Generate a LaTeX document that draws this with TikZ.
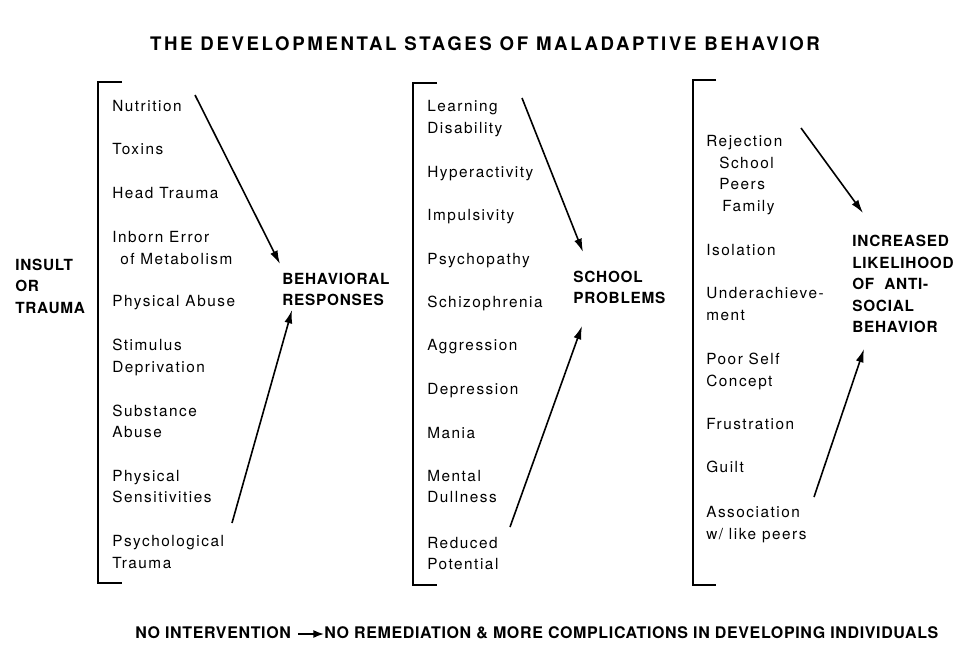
\documentclass[tikz,border=0pt]{standalone}
\usepackage{fontspec}
\setmainfont{TeX Gyre Heros}
\newfontfamily\itemfont[LetterSpace=10]{TeX Gyre Heros}
\newfontfamily\headfont[LetterSpace=5]{TeX Gyre Heros}
\newfontfamily\titlefont[LetterSpace=14]{TeX Gyre Heros}
\newfontfamily\footfont[LetterSpace=4]{TeX Gyre Heros}
\usetikzlibrary{arrows.meta}

\begin{document}
\begin{tikzpicture}[x=0.75pt,y=-0.75pt,
    item/.style={anchor=base west,inner sep=0pt,font=\fontsize{11.5}{13}\itemfont},
    head/.style={anchor=base west,inner sep=0pt,font=\fontsize{11.5}{13}\headfont\bfseries},
    foot/.style={anchor=base west,inner sep=0pt,font=\fontsize{12}{14}\footfont\bfseries},
    bracket/.style={line width=1.2pt},
    flow/.style={line width=1.2pt,-{Latex[length=10pt,width=6pt]}}]
  \useasboundingbox (0,0) rectangle (962,653);
  \node[anchor=base,inner sep=0pt,font=\fontsize{14}{16}\titlefont\bfseries] (title) at (485,50)
    {THE DEVELOPMENTAL STAGES OF MALADAPTIVE BEHAVIOR};

  % brackets
  \draw[bracket] (122,82) -- (98,82) -- (98,583) -- (122,583);
  \draw[bracket] (437,83) -- (413,83) -- (413,585) -- (437,585);
  \draw[bracket] (716,80) -- (693,80) -- (693,585) -- (716,585);

  % insult or trauma
  \foreach \y/\t [count=\i] in {265/INSULT,286/OR,308/TRAUMA}
    \node[head] (ins\i) at (15,\y+5) {\t};

  % column one
  \foreach \x/\y/\t [count=\i] in {112/106/Nutrition,112/149/Toxins,112/193/Head Trauma,
      112/237/Inborn Error,120/259/of Metabolism,112/301/Physical Abuse,112/345/Stimulus,
      112/367/Deprivation,112/411/Substance,112/432/Abuse,112/476/Physical,
      112/497/Sensitivities,112/541/Psychological,112/563/Trauma}
    \node[item] (ca\i) at (\x,\y+5) {\t};
  \node[head] (beh) at (282,279+5) {BEHAVIORAL};
  \node[head] (resp) at (282,300+5) {RESPONSES};

  % column two
  \foreach \y/\t [count=\i] in {106/Learning,128/Disability,172/Hyperactivity,215/Impulsivity,
      259/Psychopathy,302/Schizophrenia,345/Aggression,389/Depression,433/Mania,
      476/Mental,497/Dullness,543/Reduced,564/Potential}
    \node[item] (cb\i) at (427,\y+5) {\t};
  \node[head] (school) at (573,277+5) {SCHOOL};
  \node[head] (probl) at (573,298+5) {PROBLEMS};

  % column three
  \foreach \x/\y/\t [count=\i] in {706/141/Rejection,719/163/School,719/184/Peers,
      722/206/Family,706/250/Isolation,706/293/Underachieve-,706/315/ment,
      706/359/Poor Self,706/381/Concept,706/424/Frustration,706/467/Guilt,
      706/512/Association,706/534/{w/ like peers}}
    \node[item] (cc\i) at (\x,\y+5) {\t};
  \foreach \y/\t [count=\i] in {241/INCREASED,263/LIKELIHOOD,284/OF\ \ ANTI-,306/SOCIAL,327/BEHAVIOR}
    \node[head] (inc\i) at (852,\y+5) {\t};

  % arrows
  \coordinate (a1s) at (195,95);  \coordinate (a1e) at (280,264);
  \coordinate (a2s) at (232,523); \coordinate (a2e) at (292,310);
  \coordinate (b1s) at (522,98);  \coordinate (b1e) at (583,252);
  \coordinate (b2s) at (510,527); \coordinate (b2e) at (582,326);
  \coordinate (c1s) at (801,128); \coordinate (c1e) at (863,213);
  \coordinate (c2s) at (814,497); \coordinate (c2e) at (864,349);
  \foreach \s/\e in {a1s/a1e,a2s/a2e,b1s/b1e,b2s/b2e,c1s/c1e,c2s/c2e}
    \draw[flow] (\s) -- (\e);

  % bottom line
  \node[foot] (noint) at (135,638) {NO INTERVENTION};
  \node[foot] (norem) at (324,638) {NO REMEDIATION \& MORE COMPLICATIONS IN DEVELOPING INDIVIDUALS};
  \coordinate (na) at (298,634);
  \draw[line width=1.2pt,-{Latex[length=8pt,width=6pt]}] (na) -- (norem.west |- na);
\end{tikzpicture}
\end{document}
